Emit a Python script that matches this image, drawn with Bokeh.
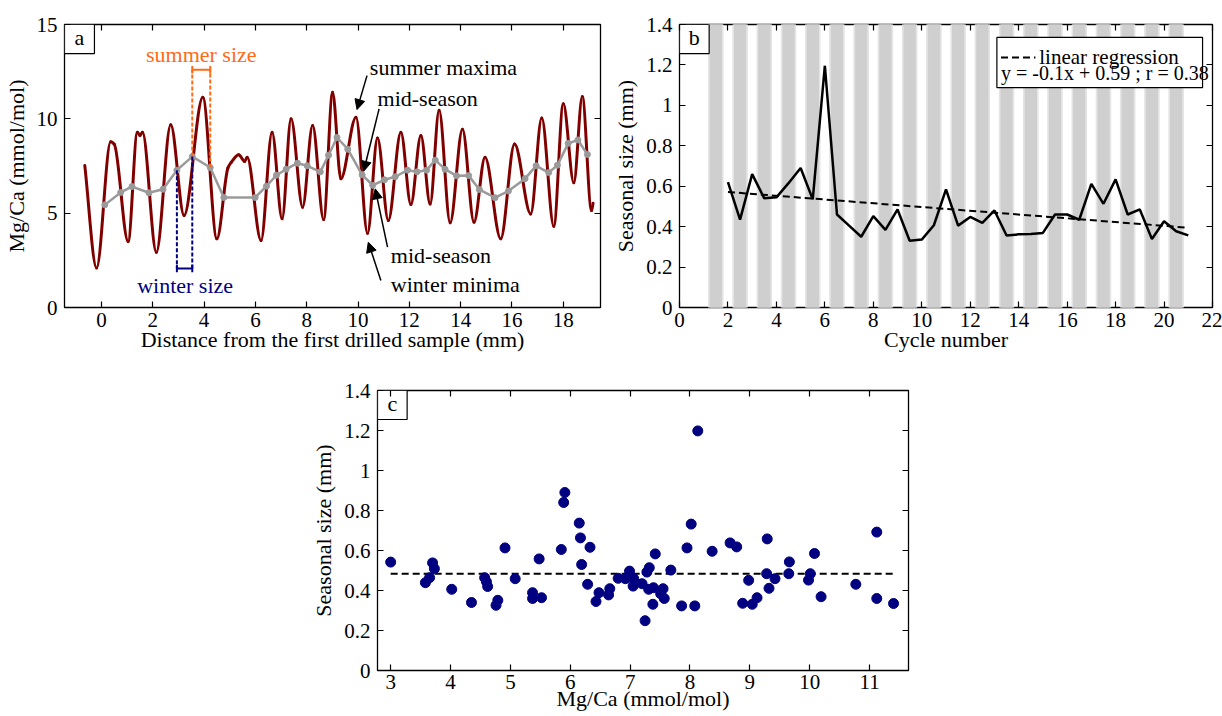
from bokeh.plotting import figure
from bokeh.models import (Range1d, FixedTicker, LinearAxis, Label, Arrow,
                          NormalHead, Spacer, CustomJSTickFormatter)
from bokeh.layouts import row, column
from bokeh.embed import file_html
from bokeh.resources import INLINE

FONT = "Liberation Serif"

# ---------------- data : panel a ----------------
mgca_dist = [-0.65, -0.19, 0.36, 0.50, 1.04, 1.40, 1.50, 1.60, 2.14, 2.70, 3.22,
             3.95, 4.50, 4.93, 5.06, 5.35, 5.58, 5.68, 6.22, 6.65, 7.04, 7.39,
             7.84, 8.23, 8.66, 9.01, 9.33, 9.92, 10.37, 10.76, 11.18, 11.67,
             12.06, 12.45, 12.81, 13.16, 13.59, 14.07, 14.52, 14.95, 15.56,
             16.10, 16.73, 17.16, 17.63, 18.00, 18.41, 18.74, 19.10, 19.16]
mgca_val = [7.53, 2.10, 8.78, 8.65, 3.50, 9.29, 9.12, 9.29, 2.93, 9.68, 4.88,
            11.14, 3.64, 7.40, 7.70, 8.10, 7.74, 7.97, 3.55, 9.29, 4.70, 10.00,
            5.32, 9.65, 4.66, 11.41, 6.82, 10.09, 3.94, 8.98, 4.61, 9.29,
            5.46, 9.12, 5.49, 10.45, 4.49, 9.45, 4.52, 7.97, 3.64,
            8.67, 4.96, 10.05, 4.31, 10.80, 6.61, 11.18, 5.14, 5.53]
mid_dist = [0.13, 0.75, 1.19, 1.85, 2.40, 2.94, 3.54, 4.24, 4.77, 5.99, 6.43,
            6.82, 7.20, 7.64, 8.02, 8.53, 8.85, 9.18, 9.60, 10.16, 10.57, 11.03,
            11.45, 11.93, 12.30, 12.67, 13.01, 13.39, 13.84, 14.31, 14.73, 15.34,
            15.86, 16.51, 16.94, 17.43, 17.77, 18.19, 18.57, 18.94]
mid_val = [5.44, 6.10, 6.41, 6.08, 6.27, 7.28, 8.00, 7.42, 5.83, 5.83, 6.43,
           7.01, 7.33, 7.65, 7.51, 7.19, 8.07, 9.01, 8.39, 7.03, 6.48, 6.77,
           6.93, 7.28, 7.19, 7.28, 7.81, 7.33, 6.98, 6.99, 6.25, 5.82,
           6.17, 6.83, 7.51, 7.15, 7.54, 8.70, 8.88, 8.11]
summer_bar_y = 12.6
winter_bar_y = 2.07
a_xticks = [0, 2, 4, 6, 8, 10, 12, 14, 16, 18]
a_yticks = [0, 5, 10, 15]

# ---------------- data : panel b ----------------
cycle_num = [2, 2.5, 3, 3.5, 4, 4.5, 5, 5.5, 6, 6.5, 7, 7.5, 8, 8.5, 9, 9.5, 10,
             10.5, 11, 11.5, 12, 12.5, 13, 13.5, 14, 14.5, 15, 15.5, 16, 16.5,
             17, 17.5, 18, 18.5, 19, 19.5, 20, 20.5, 21]
season_size = [0.62, 0.435, 0.66, 0.54, 0.545, 0.615, 0.69, 0.535, 1.196, 0.46,
               0.405, 0.35, 0.452, 0.384, 0.485, 0.33, 0.336, 0.407, 0.584,
               0.405, 0.448, 0.419, 0.48, 0.356, 0.362, 0.364, 0.369, 0.46,
               0.46, 0.434, 0.612, 0.513, 0.634, 0.46, 0.485, 0.339, 0.427,
               0.377, 0.357]
reg_slope = -0.0093
reg_intercept = 0.59
band_centers = [1.5, 2.5, 3.5, 4.5, 5.5, 6.5, 7.5, 8.5, 9.5, 10.5, 11.5, 12.5,
                13.5, 14.5, 15.5, 16.5, 17.5, 18.5, 19.5, 20.5]
b_xticks = [0, 2, 4, 6, 8, 10, 12, 14, 16, 18, 20, 22]
size_ticks = [0, 0.2, 0.4, 0.6, 0.8, 1, 1.2, 1.4]
size_tick_labels = ["0", "0.2", "0.4", "0.6", "0.8", "1", "1.2", "1.4"]

# ---------------- data : panel c ----------------
scatter_mgca = [3.00, 3.58, 3.65, 3.70, 3.73, 4.02, 4.35, 4.57, 4.60, 4.62, 4.76,
                4.79, 4.91, 5.08, 5.37, 5.37, 5.48, 5.52, 5.85, 5.89, 5.91, 6.15,
                6.17, 6.19, 6.33, 6.29, 6.43, 6.48, 6.64, 6.66, 6.80, 6.92, 6.99,
                7.06, 7.05, 7.20, 7.25, 7.28, 7.32, 7.31, 7.39, 7.38, 7.42, 7.51,
                7.55, 7.57, 7.68, 7.86, 7.95, 8.02, 8.08, 8.13, 8.37, 8.67, 8.78,
                8.88, 8.98, 9.04, 9.12, 9.28, 9.29, 9.32, 9.42, 9.65, 9.66, 9.98,
                10.01, 10.08, 10.19, 10.77, 11.12, 11.12, 11.40]
scatter_size = [0.542, 0.439, 0.464, 0.538, 0.509, 0.406, 0.340, 0.464, 0.444,
                0.420, 0.326, 0.351, 0.613, 0.459, 0.389, 0.360, 0.558, 0.364,
                0.605, 0.840, 0.890, 0.737, 0.663, 0.530, 0.616, 0.431, 0.345,
                0.389, 0.378, 0.409, 0.461, 0.459, 0.497, 0.459, 0.422, 0.434,
                0.249, 0.492, 0.514, 0.406, 0.414, 0.331, 0.583, 0.384, 0.409,
                0.360, 0.502, 0.323, 0.613, 0.732, 0.323, 1.198, 0.596, 0.638,
                0.618, 0.336, 0.451, 0.331, 0.364, 0.484, 0.658, 0.411, 0.459,
                0.484, 0.543, 0.452, 0.484, 0.585, 0.369, 0.431, 0.360, 0.692,
                0.335]
mean_size = 0.484
c_xticks = [3, 4, 5, 6, 7, 8, 9, 10, 11]

# ---------------- styling helpers ----------------
BLANK = CustomJSTickFormatter(code="return ''")


def style(p, xticks, yticks, xlabel, ylabel, yover=None, xstand=5, xlstand=-3):
    p.grid.visible = False
    p.outline_line_color = "black"
    p.outline_line_width = 1.3
    p.outline_line_alpha = 1.0
    p.background_fill_color = "white"
    p.border_fill_color = "white"
    p.xaxis.ticker = FixedTicker(ticks=xticks)
    p.yaxis.ticker = FixedTicker(ticks=yticks)
    for ax in (p.xaxis[0], p.yaxis[0]):
        ax.axis_line_color = None
        ax.major_tick_in = 6
        ax.major_tick_out = 0
        ax.major_tick_line_color = "black"
        ax.major_tick_line_width = 1.2
        ax.minor_tick_line_color = None
        ax.minor_tick_in = 0
        ax.minor_tick_out = 0
        ax.major_label_text_font = FONT
        ax.major_label_text_font_size = "21px"
        ax.major_label_text_color = "black"
        ax.axis_label_text_font = FONT
        ax.axis_label_text_font_size = "22px"
        ax.axis_label_text_font_style = "normal"
        ax.axis_label_text_color = "black"
    p.xaxis.axis_label = xlabel
    p.yaxis.axis_label = ylabel
    p.xaxis.major_label_standoff = xstand
    p.xaxis.axis_label_standoff = xlstand
    p.yaxis.major_label_standoff = 7
    p.yaxis.axis_label_standoff = 5
    if yover:
        p.yaxis.major_label_overrides = yover
    for loc, ticks in (("above", xticks), ("right", yticks)):
        ax = LinearAxis(ticker=FixedTicker(ticks=ticks), formatter=BLANK,
                        axis_line_color=None, major_tick_in=6, major_tick_out=0,
                        minor_tick_in=0, minor_tick_out=0,
                        minor_tick_line_color=None, major_label_standoff=0,
                        major_tick_line_color="black", major_tick_line_width=1.2)
        p.add_layout(ax, loc)


def txt(p, x, y, text, size="22px", color="black", align="left"):
    p.add_layout(Label(x=x, y=y, text=text, text_font=FONT, text_font_size=size,
                       text_color=color, text_baseline="middle", text_align=align))


def letter_box(p, left, right, bottom, top, letter):
    p.quad(left=[left], right=[right], bottom=[bottom], top=[top],
           fill_color="white", line_color="black", line_width=1.2)
    txt(p, (left + right) / 2, (bottom + top) / 2 + (top - bottom) * 0.04,
        letter, align="center")


# ---------------- panel a ----------------
pa = figure(width=610, height=358, x_range=Range1d(-1.44, 19.45),
            y_range=Range1d(0, 15), output_backend="svg", toolbar_location=None,
            min_border_left=63, min_border_right=10, min_border_top=24,
            min_border_bottom=51)
style(pa, a_xticks, a_yticks, "Distance from the first drilled sample (mm)",
      "Mg/Ca (mmol/mol)")

# smooth (monotone cubic) rendering of the read points as bezier segments
n = len(mgca_dist)
d = [(mgca_val[i + 1] - mgca_val[i]) / (mgca_dist[i + 1] - mgca_dist[i])
     for i in range(n - 1)]
m = [0.0] * n
m[0], m[-1] = d[0], d[-1]
for i in range(1, n - 1):
    m[i] = 0.0 if d[i - 1] * d[i] <= 0 else 2.0 / (1.0 / d[i - 1] + 1.0 / d[i])
bx0, by0, bx1, by1, cx0, cy0, cx1, cy1 = ([] for _ in range(8))
for i in range(n - 1):
    h = mgca_dist[i + 1] - mgca_dist[i]
    bx0.append(mgca_dist[i]); by0.append(mgca_val[i])
    bx1.append(mgca_dist[i + 1]); by1.append(mgca_val[i + 1])
    cx0.append(mgca_dist[i] + h / 3); cy0.append(mgca_val[i] + m[i] * h / 3)
    cx1.append(mgca_dist[i + 1] - h / 3); cy1.append(mgca_val[i + 1] - m[i + 1] * h / 3)
pa.bezier(x0=bx0, y0=by0, x1=bx1, y1=by1, cx0=cx0, cy0=cy0, cx1=cx1, cy1=cy1,
          line_color="#800000", line_width=3, line_cap="round")
pa.line(mid_dist, mid_val, line_color="#9a9a9a", line_width=2.5)
pa.scatter(mid_dist, mid_val, size=6, color="#9a9a9a")

ORANGE = "#ff6a14"
NAVY = "#000080"
# summer size
for k in (6, 7):
    pa.line([mid_dist[k], mid_dist[k]], [mid_val[k], summer_bar_y],
            line_color=ORANGE, line_width=2, line_dash="4 2")
    pa.line([mid_dist[k], mid_dist[k]], [summer_bar_y - 0.2, summer_bar_y + 0.2],
            line_color=ORANGE, line_width=2)
pa.line([mid_dist[6], mid_dist[7]], [summer_bar_y, summer_bar_y],
        line_color=ORANGE, line_width=2)
# winter size
for k in (5, 6):
    pa.line([mid_dist[k], mid_dist[k]], [mid_val[k], winter_bar_y],
            line_color=NAVY, line_width=2, line_dash="4 2")
    pa.line([mid_dist[k], mid_dist[k]], [winter_bar_y - 0.2, winter_bar_y + 0.2],
            line_color=NAVY, line_width=2)
pa.line([mid_dist[5], mid_dist[6]], [winter_bar_y, winter_bar_y],
        line_color=NAVY, line_width=2)

txt(pa, 3.89, 13.41, "summer size", color=ORANGE, align="center")
txt(pa, 3.26, 1.17, "winter size", color=NAVY, align="center")
txt(pa, 10.46, 12.72, "summer maxima")
txt(pa, 10.76, 11.08, "mid-season")
txt(pa, 11.28, 2.76, "mid-season")
txt(pa, 11.28, 1.22, "winter minima")
for (xs, ys, xe, ye) in [(10.35, 12.29, 9.96, 10.49), (10.82, 10.53, 10.22, 7.22),
                         (11.15, 3.20, 10.67, 6.29), (10.89, 1.43, 10.40, 3.46)]:
    pa.add_layout(Arrow(x_start=xs, y_start=ys, x_end=xe, y_end=ye,
                        line_color="black", line_width=1.5,
                        end=NormalHead(size=10, fill_color="black",
                                       line_color="black", line_width=1)))
letter_box(pa, -1.44, -0.273, 13.46, 15, "a")

# ---------------- panel b ----------------
pb = figure(width=612, height=358, x_range=Range1d(0, 22),
            y_range=Range1d(0, 1.4), output_backend="svg", toolbar_location=None,
            min_border_left=63, min_border_right=10, min_border_top=24,
            min_border_bottom=51)
style(pb, b_xticks, size_ticks, "Cycle number", "Seasonal size (mm)",
      yover=dict(zip(size_ticks, size_tick_labels)))
pb.vbar(x=band_centers, width=0.6, bottom=0, top=1.4, color="#e4e4e4")
pb.vbar(x=band_centers, width=0.46, bottom=0, top=1.4, color="#cfcfcf")
pb.line(cycle_num, season_size, line_color="black", line_width=2.5)
reg_x = [cycle_num[0], cycle_num[-1]]
reg_y = [reg_intercept + reg_slope * v for v in reg_x]
pb.line(reg_x, reg_y, line_color="black", line_width=2, line_dash="7 4")
# legend box
pb.quad(left=[13.10], right=[21.59], bottom=[1.088], top=[1.336],
        fill_color="white", line_color="black", line_width=1.2)
pb.line([13.27, 14.69], [1.237, 1.237], line_color="black", line_width=2,
        line_dash="7 4")
txt(pb, 14.85, 1.240, "linear regression", size="21px")
txt(pb, 13.27, 1.158, "y = -0.1x + 0.59 ; r = 0.38", size="20px")
letter_box(pb, 0, 1.224, 1.256, 1.4, "b")

# ---------------- panel c ----------------
pc = figure(width=610, height=358, x_range=Range1d(2.78, 11.65),
            y_range=Range1d(0, 1.4), output_backend="svg", toolbar_location=None,
            min_border_left=62, min_border_right=10, min_border_top=32,
            min_border_bottom=46)
style(pc, c_xticks, size_ticks, "Mg/Ca (mmol/mol)", "Seasonal size (mm)",
      yover=dict(zip(size_ticks, size_tick_labels)), xstand=4, xlstand=-6)
pc.line([min(scatter_mgca), max(scatter_mgca)], [mean_size, mean_size],
        line_color="black", line_width=2, line_dash="7 4")
pc.scatter(scatter_mgca, scatter_size, size=10, color=NAVY)
letter_box(pc, 2.78, 3.275, 1.255, 1.4, "c")

layout = column(row(pa, pb), row(Spacer(width=308, height=358), pc))
open("out.html", "w").write(file_html(layout, INLINE))
